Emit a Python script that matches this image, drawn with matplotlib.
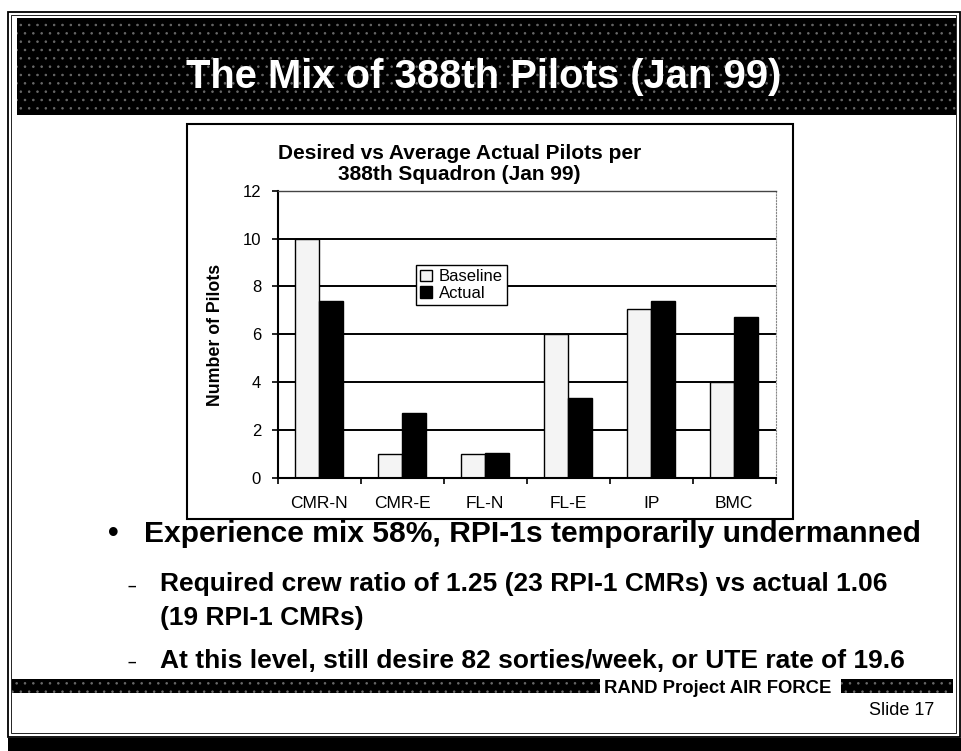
import matplotlib
matplotlib.use('Agg')
import matplotlib.pyplot as plt
from matplotlib.patches import Rectangle
import numpy as np

plt.rcParams['font.family'] = ['Liberation Sans', 'DejaVu Sans']
plt.rcParams['hatch.linewidth'] = 0.6

# chart data
categories = ['CMR-N', 'CMR-E', 'FL-N', 'FL-E', 'IP', 'BMC']
baseline = [10, 1, 1, 6, 7.05, 4]
actual = [7.4, 2.7, 1.05, 3.35, 7.4, 6.7]
yticks = [0, 2, 4, 6, 8, 10, 12]

slide_title = 'The Mix of 388th Pilots (Jan 99)'
chart_title = ['Desired vs Average Actual Pilots per', '388th Squadron (Jan 99)']
bullet = 'Experience mix 58%, RPI-1s temporarily undermanned'
sub_lines = ['Required crew ratio of 1.25 (23 RPI-1 CMRs) vs actual 1.06',
             '(19 RPI-1 CMRs)',
             'At this level, still desire 82 sorties/week, or UTE rate of 19.6']

W, H = 961, 751
fig = plt.figure(figsize=(W / 100, H / 100), dpi=100)

# slide background, in pixel coordinates (y downwards)
bg = fig.add_axes([0, 0, 1, 1])
bg.set_xlim(0, W)
bg.set_ylim(H, 0)
bg.axis('off')

# double frame + black strip at the bottom
bg.add_patch(Rectangle((7.5, 11.5), 952, 725, fill=False, lw=1.3, ec='black'))
bg.add_patch(Rectangle((11, 15), 945, 718, fill=False, lw=0.6, ec='black'))
bg.add_patch(Rectangle((8, 738), 953, 13, color='black', lw=0))

# speckled title banner
speckle = dict(fc='black', ec='#6a6a6a', hatch='..', lw=0)
bg.add_patch(Rectangle((17, 18), 939, 97, **speckle))
bg.text(484, 88.5, slide_title, color='white', fontsize=28.8, fontweight='bold',
        ha='center', va='baseline')

# box around the chart
bg.add_patch(Rectangle((187, 124), 606, 395, fill=False, lw=1.5, ec='black'))
bg.text(459.5, 159, chart_title[0], fontsize=15, fontweight='bold', ha='center', va='baseline')
bg.text(459.5, 180.5, chart_title[1], fontsize=15, fontweight='bold', ha='center', va='baseline')
bg.text(215, 335, 'Number of Pilots', fontsize=12.8, fontweight='bold', rotation=90,
        ha='center', va='center')

# bullets
bg.text(113.4, 542.5, '\u2022', fontsize=21.6, fontweight='bold', ha='center', va='baseline')
bg.text(144, 542.5, bullet, fontsize=21.6, fontweight='bold', ha='left', va='baseline')
for y, s, dash in zip([591, 624.5, 667.5], sub_lines, [True, False, True]):
    if dash:
        bg.text(131.7, y - 0.5, '\u2013', fontsize=11, fontweight='bold', ha='center', va='baseline')
    bg.text(160.5, y, s, fontsize=19, fontweight='bold', ha='left', va='baseline')

# footer
bg.add_patch(Rectangle((12, 679), 588, 14, **speckle))
bg.add_patch(Rectangle((841, 679), 112, 14, **speckle))
bg.text(603.5, 693, 'RAND Project AIR FORCE', fontsize=13.3, fontweight='bold', ha='left', va='baseline')
bg.text(934, 715, 'Slide 17', fontsize=13, ha='right', va='baseline')

# the bar chart itself
ax = fig.add_axes([277.7 / W, 1 - 477.7 / H, 498 / W, 287 / H])
x = np.arange(len(categories))
w = 0.29
for y in yticks[1:-1]:
    ax.axhline(y, color='black', lw=1.4, zorder=1)
ax.bar(x - w / 2, baseline, w, color='#f4f4f4', edgecolor='black', lw=1, label='Baseline', zorder=2)
ax.bar(x + w / 2, actual, w, color='black', edgecolor='black', lw=1, label='Actual', zorder=2)
ax.set_xlim(-0.5, 5.5)
ax.set_ylim(0, 12)
ax.set_yticks(yticks)
ax.set_xticks(np.arange(-0.5, 6, 1))
ax.set_xticklabels([])
ax.set_xticks(x, minor=True)
ax.set_xticklabels(categories, minor=True)
ax.tick_params(axis='x', which='minor', length=0, pad=13, labelsize=12.5)
ax.tick_params(axis='x', which='major', length=4, width=1.2, direction='out')
ax.tick_params(axis='y', length=4, width=1.2, pad=8, labelsize=12)

ax.spines['left'].set_linewidth(1.5)
ax.spines['bottom'].set_linewidth(1.5)
ax.spines['top'].set_color('#444444')
ax.spines['top'].set_linestyle((0, (3, 1)))
ax.spines['top'].set_linewidth(1.0)
ax.spines['right'].set_color('#888888')
ax.spines['right'].set_linestyle(':')
ax.spines['right'].set_linewidth(0.8)

leg = ax.legend(loc='upper left', bbox_to_anchor=(416 / W, 1 - 265 / H),
                bbox_transform=fig.transFigure, borderaxespad=0, fancybox=False,
                edgecolor='black', framealpha=1, fontsize=12, handlelength=0.7,
                handleheight=0.7, handletextpad=0.4, labelspacing=0.1, borderpad=0.25)
leg.get_frame().set_linewidth(1)

fig.savefig('out.png', dpi=100)
